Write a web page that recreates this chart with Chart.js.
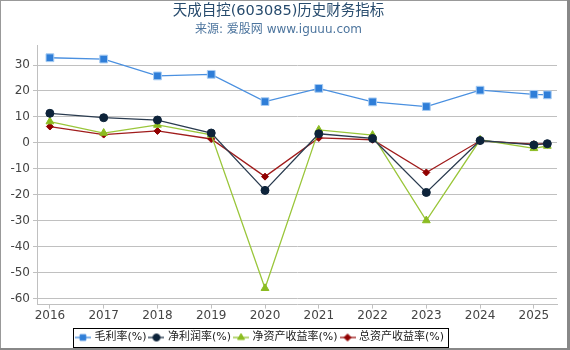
<!DOCTYPE html>
<html>
<head>
<meta charset="utf-8">
<script src="https://cdn.jsdelivr.net/npm/chart.js@4.4.1/dist/chart.umd.min.js"></script>
<style>
html,body{margin:0;padding:0;background:#fff}
</style>
</head>
<body>
<canvas id="myChart" width="570" height="350"></canvas>
<script>
// periods as fractional years, last point is 2025 Q1
var periods=[2016,2017,2018,2019,2020,2021,2022,2023,2024,2025,2025.25]
var grossMargin=[32.8,32.3,25.8,26.4,15.9,21.0,15.8,14.0,20.3,18.7,18.5]
var netMargin=[11.4,9.7,8.8,3.8,-18.3,3.5,1.7,-19.1,0.9,-0.8,-0.3]
var roe=[8.2,3.8,6.9,3.1,-56.0,5.0,3.0,-29.9,1.2,-2.1,-1.2]
var roa=[6.3,3.2,4.6,1.5,-13.0,1.9,1.2,-11.4,0.8,-0.5,-0.3]
var seriesNames=["毛利率(%)","净利润率(%)","净资产收益率(%)","总资产收益率(%)"]
var yTicks=[-60,-50,-40,-30,-20,-10,0,10,20,30]
var xTicks=[2016,2017,2018,2019,2020,2021,2022,2023,2024,2025]

var FONT="'DejaVu Sans','Noto Sans CJK SC',sans-serif"

function pts(vals){
  return vals.map(function(v,i){return {x:periods[i],y:v}})
}

function legendIcon(color,style,r){
  let c=document.createElement('canvas')
  c.width=16;c.height=10
  let g=c.getContext('2d')
  g.strokeStyle=color;g.globalAlpha=0.6;g.lineWidth=2
  g.beginPath();g.moveTo(0,5);g.lineTo(16,5);g.stroke()
  g.globalAlpha=1
  g.fillStyle=color;g.strokeStyle=color;g.lineWidth=1
  Chart.helpers.drawPoint(g,{pointStyle:style,radius:r,rotation:0,borderWidth:1},8,5)
  return c
}

var colors=["#2f7ed8","#0d233a","#8bbc21","#910000"]
var styles=["rect","circle","triangle","rectRot"]
var icons=colors.map(function(c,i){return legendIcon(c,styles[i],[4,3.5,4,3.5][i])})

var frame={
  id:'frame',
  afterLayout(chart){
    // nudge the legend a bit left and down
    let lg=chart.legend
    lg.left-=18;lg.right-=18
    lg.top+=5;lg.bottom+=5
  },
  afterDraw(chart){
    let ctx=chart.ctx
    let boxes=chart.legend.legendHitBoxes
    if(boxes && boxes.length){
      let l=boxes[0].left-4
      let last=boxes[boxes.length-1]
      let r=last.left+last.width+4
      let t=boxes[0].top-4
      let b=boxes[0].top+boxes[0].height+4
      ctx.save()
      ctx.strokeStyle='#000';ctx.lineWidth=1
      ctx.strokeRect(Math.round(l)+0.5,Math.round(t)+0.5,Math.round(r-l),Math.round(b-t))
      ctx.restore()
    }
    ctx.save()
    ctx.fillStyle='#999'
    ctx.fillRect(0,0,570,1)
    ctx.fillRect(0,0,1,350)
    ctx.fillStyle='#888'
    ctx.fillRect(567,0,3,350)
    ctx.fillRect(0,348,570,2)
    ctx.restore()
  }
}

var ctx=document.getElementById("myChart").getContext("2d")
var myChart=new Chart(ctx,{
  type:'line',
  data:{
    datasets:[
      {label:seriesNames[0],data:pts(grossMargin),borderColor:"#4a90e0",backgroundColor:colors[0],
        pointStyle:'rect',pointRadius:5.5,pointBorderColor:'#a9cdf3',pointBorderWidth:1},
      {label:seriesNames[1],data:pts(netMargin),borderColor:"#2a3b4f",backgroundColor:colors[1],
        pointStyle:'circle',pointRadius:4,pointBorderColor:colors[1],pointBorderWidth:1},
      {label:seriesNames[2],data:pts(roe),borderColor:"#9ac63a",backgroundColor:colors[2],
        pointStyle:'triangle',pointRadius:4.5,pointBorderColor:colors[2],pointBorderWidth:1},
      {label:seriesNames[3],data:pts(roa),borderColor:"#a01c1c",backgroundColor:colors[3],
        pointStyle:'rectRot',pointRadius:3.5,pointBorderColor:colors[3],pointBorderWidth:1}
    ]
  },
  options:{
    responsive:false,
    animation:false,
    layout:{padding:{left:0,right:13,top:0,bottom:2}},
    elements:{line:{borderWidth:1.3,tension:0}},
    scales:{
      x:{
        type:'linear',min:2015.76,max:2025.43,
        afterBuildTicks(axis){axis.ticks=xTicks.map(function(v){return {value:v}})},
        grid:{drawOnChartArea:false,drawTicks:true,tickLength:4,color:'#c0c0c0'},
        border:{color:'#c0c0c0'},
        ticks:{padding:0,color:'#444',font:{family:FONT,size:12},maxRotation:0,
          callback(v){return String(v)}}
      },
      y:{
        min:-62.3,max:37.4,
        afterBuildTicks(axis){axis.ticks=yTicks.map(function(v){return {value:v}})},
        afterFit(axis){axis.width=37},
        grid:{color:'#c0c0c0',tickLength:4},
        border:{color:'#c0c0c0'},
        ticks:{padding:3,color:'#444',font:{family:FONT,size:12}}
      }
    },
    plugins:{
      title:{display:true,text:"天成自控(603085)历史财务指标",color:'#274b6d',
        font:{family:FONT,size:14.5,weight:'normal'},padding:{top:3,bottom:0}},
      subtitle:{display:true,text:"来源: 爱股网 www.iguuu.com",color:'#4d759e',
        font:{family:FONT,size:12,weight:'normal'},padding:{top:2,bottom:9}},
      legend:{
        position:'bottom',
        labels:{
          usePointStyle:true,pointStyleWidth:12,boxHeight:10,padding:4,
          color:'#222',font:{family:FONT,size:11},
          generateLabels(chart){
            let items=Chart.defaults.plugins.legend.labels.generateLabels(chart)
            items.forEach(function(it,i){it.pointStyle=icons[i]})
            return items
          }
        }
      },
      tooltip:{enabled:false}
    }
  },
  plugins:[frame]
})
</script>
</body>
</html>
